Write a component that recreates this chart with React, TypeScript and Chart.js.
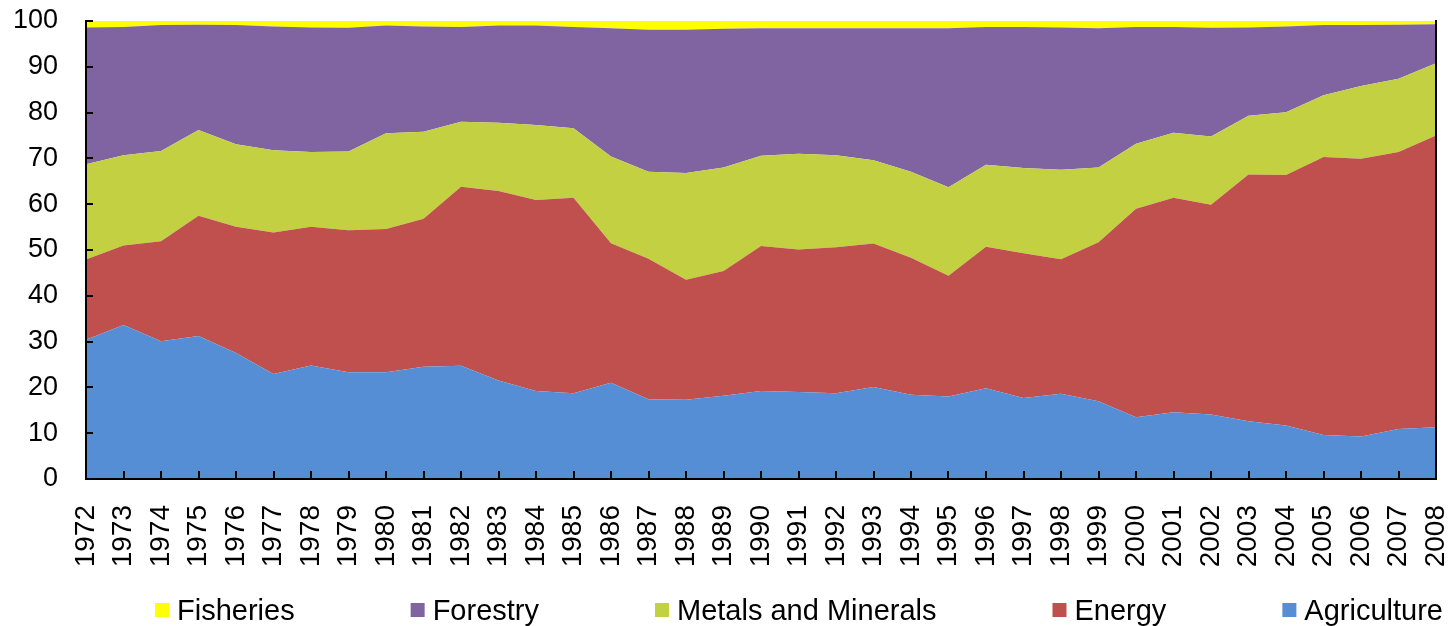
import React, { useEffect, useRef } from "react";
import { Chart, registerables } from "chart.js";

Chart.register(...registerables);

const years = [
  "1972","1973","1974","1975","1976","1977","1978","1979","1980","1981","1982","1983",
  "1984","1985","1986","1987","1988","1989","1990","1991","1992","1993","1994","1995",
  "1996","1997","1998","1999","2000","2001","2002","2003","2004","2005","2006","2007","2008",
];

const agriculture = [30.4,33.6,30.1,31.2,27.5,22.9,24.8,23.3,23.3,24.5,24.7,21.5,19.2,18.7,21.0,17.4,17.3,18.2,19.2,19.0,18.7,20.1,18.4,18.0,19.8,17.7,18.6,17.0,13.5,14.6,14.1,12.6,11.7,9.6,9.3,10.9,11.3];
const energy = [17.5,17.4,21.8,26.3,27.6,30.9,30.3,31.0,31.3,32.3,39.1,41.4,41.7,42.7,30.5,30.7,26.2,27.2,31.7,31.1,31.9,31.3,29.9,26.4,30.9,31.6,29.4,34.7,45.5,46.8,45.8,53.9,54.7,60.7,60.6,60.5,63.7];
const metals = [20.8,19.7,19.7,18.7,18.0,18.0,16.3,17.2,20.9,19.0,14.2,14.9,16.4,15.2,18.9,19.0,23.3,22.6,19.7,20.9,20.1,18.2,18.8,19.3,17.9,18.6,19.5,16.3,14.2,14.2,14.9,12.8,13.7,13.5,15.9,16.0,15.8];
const forestry = [29.9,28.0,27.5,23.0,26.0,27.0,27.2,27.0,23.5,23.0,20.7,21.2,21.7,22.1,28.0,31.0,31.3,30.3,27.8,27.4,27.7,28.8,31.3,34.7,30.1,30.8,31.1,30.4,25.5,23.1,23.7,19.3,18.7,15.3,13.3,11.8,8.5];
const fisheries = [1.4,1.3,0.9,0.8,0.9,1.2,1.4,1.5,1.0,1.2,1.3,1.0,1.0,1.3,1.6,1.9,1.9,1.7,1.6,1.6,1.6,1.6,1.6,1.6,1.3,1.3,1.4,1.6,1.3,1.3,1.5,1.4,1.2,0.9,0.9,0.8,0.7];

const seriesNames = ["Agriculture", "Energy", "Metals and Minerals", "Forestry", "Fisheries"];
const seriesData = [agriculture, energy, metals, forestry, fisheries];
const seriesColors = ["#558ED5", "#C0504D", "#C2D042", "#8064A2", "#FFFF00"];

const FONT = "'Liberation Sans', Arial, sans-serif";

const legendPlugin = {
  id: "customLegend",
  afterDraw(chart: any) {
    const ctx = chart.ctx;
    ctx.save();
    ctx.font = `29px ${FONT}`;
    ctx.textBaseline = "alphabetic";
    ctx.textAlign = "left";
    let x = 155;
    const ds = chart.data.datasets.slice().reverse();
    ds.forEach((d: any) => {
      ctx.fillStyle = d.backgroundColor;
      ctx.fillRect(x, 603, 14, 14);
      ctx.fillStyle = "#000";
      ctx.fillText(d.label, x + 22, 620);
      x += 22 + ctx.measureText(d.label).width + 116;
    });
    ctx.restore();
  },
};

const zeroPad = (s: any) => {
  s.paddingTop = 0;
  s.paddingBottom = 0;
  s.paddingLeft = 0;
  s.paddingRight = 0;
};

export default function App() {
  const ref = useRef<HTMLCanvasElement>(null);
  useEffect(() => {
    if (!ref.current) return;
    const chart = new Chart(ref.current, {
      type: "line",
      data: {
        labels: years,
        datasets: seriesNames.map((name, i) => ({
          label: name,
          data: seriesData[i],
          backgroundColor: seriesColors[i],
          borderColor: seriesColors[i],
          borderWidth: 0,
          pointRadius: 0,
          tension: 0,
          fill: i === 0 ? "origin" : "-1",
        })),
      },
      options: {
        animation: false,
        responsive: false,
        devicePixelRatio: 1,
        layout: { padding: { top: 21, left: 0, right: 0, bottom: 0 }, autoPadding: false },
        plugins: { legend: { display: false }, tooltip: { enabled: false } },
        scales: {
          x: {
            offset: false,
            grid: { display: true, drawOnChartArea: false, drawTicks: true, tickLength: -8, color: "#000", lineWidth: 2, z: 1 },
            border: { display: true, color: "#000", width: 2, z: 1 },
            ticks: { autoSkip: false, maxRotation: 90, minRotation: 90, padding: 34, color: "#000", font: { family: FONT, size: 28 } },
            afterFit: (s: any) => { s.height = 147; zeroPad(s); },
          },
          y: {
            stacked: true,
            min: 0,
            max: 100,
            grid: { display: true, drawOnChartArea: false, drawTicks: true, tickLength: -7, color: "#000", lineWidth: 2, z: 1 },
            border: { display: true, color: "#000", width: 2, z: 1 },
            ticks: { stepSize: 10, padding: 35, color: "#000", font: { family: FONT, size: 27 } },
            afterFit: (s: any) => { s.width = 86; zeroPad(s); },
          },
          y2: {
            position: "right",
            min: 0,
            max: 100,
            grid: { display: false },
            border: { display: true, color: "#000", width: 2, z: 1 },
            ticks: { display: false },
            afterFit: (s: any) => { s.width = 14; zeroPad(s); },
          },
        },
      },
      plugins: [legendPlugin],
    });
    return () => chart.destroy();
  }, []);
  return (
    <div style={{ position: "absolute", left: 0, top: 0, width: 1450, height: 626, background: "#fff" }}>
      <canvas ref={ref} width={1450} height={626} />
    </div>
  );
}
